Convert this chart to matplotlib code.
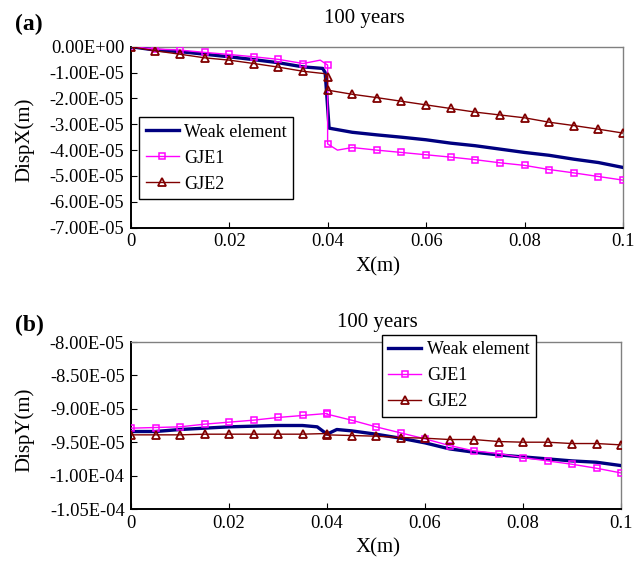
import matplotlib
matplotlib.use("Agg")
import matplotlib.pyplot as plt
from matplotlib.ticker import FuncFormatter

plt.rcParams['font.family'] = ['Liberation Serif', 'DejaVu Serif']

# ---- panel (a): DispX ----
xa_weak = [0, 0.005, 0.01, 0.015, 0.02, 0.025, 0.03, 0.035, 0.039, 0.0395, 0.0403,
           0.045, 0.05, 0.055, 0.06, 0.065, 0.07, 0.075, 0.08, 0.085, 0.09, 0.095, 0.1]
ya_weak = [0, -0.13e-5, -0.19e-5, -0.29e-5, -0.39e-5, -0.50e-5, -0.62e-5, -0.78e-5, -0.84e-5, -1.0e-5, -3.15e-5,
           -3.31e-5, -3.41e-5, -3.50e-5, -3.60e-5, -3.73e-5, -3.83e-5, -3.96e-5, -4.09e-5, -4.20e-5, -4.35e-5, -4.48e-5, -4.67e-5]

xa_gje1 = [0, 0.005, 0.01, 0.015, 0.02, 0.025, 0.03, 0.035, 0.0385, 0.04, 0.04, 0.042,
           0.045, 0.05, 0.055, 0.06, 0.065, 0.07, 0.075, 0.08, 0.085, 0.09, 0.095, 0.1]
ya_gje1 = [0, -0.09e-5, -0.13e-5, -0.22e-5, -0.30e-5, -0.39e-5, -0.49e-5, -0.65e-5, -0.52e-5, -0.71e-5, -3.76e-5, -4.0e-5,
           -3.90e-5, -4.00e-5, -4.09e-5, -4.18e-5, -4.27e-5, -4.37e-5, -4.49e-5, -4.59e-5, -4.75e-5, -4.88e-5, -5.02e-5, -5.16e-5]
mk_gje1 = [0, 1, 2, 3, 4, 5, 6, 7, 9, 10, 12, 13, 14, 15, 16, 17, 18, 19, 20, 21, 22, 23]

xa_gje2 = [0, 0.005, 0.01, 0.015, 0.02, 0.025, 0.03, 0.035, 0.0393, 0.04, 0.04,
           0.045, 0.05, 0.055, 0.06, 0.065, 0.07, 0.075, 0.08, 0.085, 0.09, 0.095, 0.1]
ya_gje2 = [0, -0.16e-5, -0.29e-5, -0.43e-5, -0.52e-5, -0.65e-5, -0.79e-5, -0.95e-5, -1.04e-5, -1.16e-5, -1.68e-5,
           -1.84e-5, -1.97e-5, -2.11e-5, -2.25e-5, -2.39e-5, -2.53e-5, -2.64e-5, -2.75e-5, -2.92e-5, -3.05e-5, -3.19e-5, -3.34e-5]
mk_gje2 = [0, 1, 2, 3, 4, 5, 6, 7, 9, 10, 11, 12, 13, 14, 15, 16, 17, 18, 19, 20, 21, 22]

# ---- panel (b): DispY ----
xb_weak = [0, 0.005, 0.01, 0.015, 0.02, 0.025, 0.03, 0.035, 0.038, 0.04, 0.042,
           0.045, 0.05, 0.055, 0.06, 0.065, 0.07, 0.075, 0.08, 0.085, 0.09, 0.095, 0.1]
yb_weak = [-9.34e-5, -9.34e-5, -9.31e-5, -9.29e-5, -9.27e-5, -9.26e-5, -9.25e-5, -9.25e-5, -9.27e-5, -9.38e-5, -9.31e-5,
           -9.33e-5, -9.38e-5, -9.44e-5, -9.51e-5, -9.60e-5, -9.65e-5, -9.69e-5, -9.72e-5, -9.75e-5, -9.78e-5, -9.80e-5, -9.85e-5]

xb_gje1 = [0, 0.005, 0.01, 0.015, 0.02, 0.025, 0.03, 0.035, 0.04, 0.04,
           0.045, 0.05, 0.055, 0.06, 0.065, 0.07, 0.075, 0.08, 0.085, 0.09, 0.095, 0.1]
yb_gje1 = [-9.29e-5, -9.28e-5, -9.27e-5, -9.23e-5, -9.20e-5, -9.17e-5, -9.13e-5, -9.10e-5, -9.07e-5, -9.08e-5,
           -9.17e-5, -9.27e-5, -9.36e-5, -9.45e-5, -9.55e-5, -9.63e-5, -9.67e-5, -9.73e-5, -9.78e-5, -9.83e-5, -9.89e-5, -9.96e-5]

xb_gje2 = [0, 0.005, 0.01, 0.015, 0.02, 0.025, 0.03, 0.035, 0.04, 0.04,
           0.045, 0.05, 0.055, 0.06, 0.065, 0.07, 0.075, 0.08, 0.085, 0.09, 0.095, 0.1]
yb_gje2 = [-9.39e-5, -9.39e-5, -9.39e-5, -9.38e-5, -9.38e-5, -9.38e-5, -9.38e-5, -9.38e-5, -9.37e-5, -9.39e-5,
           -9.40e-5, -9.41e-5, -9.43e-5, -9.44e-5, -9.46e-5, -9.46e-5, -9.49e-5, -9.50e-5, -9.50e-5, -9.52e-5, -9.52e-5, -9.54e-5]

xticks = [0, 0.02, 0.04, 0.06, 0.08, 0.1]
xticklabels = ['0', '0.02', '0.04', '0.06', '0.08', '0.1']
yticks_a = [0, -1e-5, -2e-5, -3e-5, -4e-5, -5e-5, -6e-5, -7e-5]
yticks_b = [-8e-5, -8.5e-5, -9e-5, -9.5e-5, -1e-4, -1.05e-4]

NAVY = '#000080'
MAG = '#FF00FF'
DRED = '#800000'


def sci(v, pos):
    if abs(v) < 1e-12:
        return '0.00E+00'
    return '%.2E' % v


def style_axes(ax, yticks):
    ax.set_xlim(0, 0.1)
    ax.set_ylim(min(yticks), max(yticks))
    ax.set_xticks(xticks)
    ax.set_xticklabels(xticklabels)
    ax.set_yticks(yticks)
    ax.yaxis.set_major_formatter(FuncFormatter(sci))
    ax.tick_params(axis='x', direction='in', length=4, pad=4, labelsize=13.3)
    ax.tick_params(axis='y', direction='in', length=4, pad=4.5, labelsize=13.3)
    for s in ['left', 'bottom']:
        ax.spines[s].set_linewidth(1.4)
        ax.spines[s].set_color('black')
    for s in ['top', 'right']:
        ax.spines[s].set_linewidth(1.0)
        ax.spines[s].set_color('#808080')


def draw(ax, xw, yw, x1, y1, m1, x2, y2, m2):
    ax.plot(xw, yw, color=NAVY, lw=2.4, label='Weak element', zorder=3)
    ax.plot(x1, y1, color=MAG, lw=1.0, marker='s', ms=5, mfc='none', mec=MAG,
            mew=1.1, markevery=m1, label='GJE1', zorder=4)
    ax.plot(x2, y2, color=DRED, lw=1.0, marker='^', ms=6, mfc='none', mec=DRED,
            mew=1.3, markevery=m2, label='GJE2', zorder=4)


W, H = 641, 562
fig = plt.figure(figsize=(W / 100, H / 100), dpi=100)

ax1 = fig.add_axes([130.7 / W, 1 - 227.7 / H, (623 - 130.7) / W, (227.7 - 46.7) / H])
draw(ax1, xa_weak, ya_weak, xa_gje1, ya_gje1, mk_gje1, xa_gje2, ya_gje2, mk_gje2)
style_axes(ax1, yticks_a)

ax2 = fig.add_axes([131 / W, 1 - 509 / H, (621 - 131) / W, (509 - 342) / H])
mk_b = list(range(len(xb_gje1)))
draw(ax2, xb_weak, yb_weak, xb_gje1, yb_gje1, mk_b, xb_gje2, yb_gje2, mk_b)
style_axes(ax2, yticks_b)

for ax, lx, ly in [(ax1, 139.3, 117.3), (ax2, 381.7, 335)]:
    leg = ax.legend(loc='upper left', bbox_to_anchor=(lx / W, 1 - ly / H),
                    bbox_transform=fig.transFigure, borderaxespad=0,
                    fontsize=13, frameon=True, fancybox=False, framealpha=1,
                    edgecolor='black', handlelength=1.85, handletextpad=0.3,
                    labelspacing=0.5, borderpad=0.35)
    leg.get_frame().set_linewidth(1.0)
    leg.set_zorder(10)

# titles, labels, panel letters
fig.text(364 / W, 1 - 18 / H, '100 years', ha='center', va='center', fontsize=15)
fig.text(377 / W, 1 - 322 / H, '100 years', ha='center', va='center', fontsize=15)
fig.text(378 / W, 1 - 267 / H, 'X(m)', ha='center', va='center', fontsize=15)
fig.text(378 / W, 1 - 548 / H, 'X(m)', ha='center', va='center', fontsize=15)
fig.text(25 / W, 1 - 140 / H, 'DispX(m)', ha='center', va='center', rotation=90, fontsize=15)
fig.text(25 / W, 1 - 430 / H, 'DispY(m)', ha='center', va='center', rotation=90, fontsize=15)
fig.text(15 / W, 1 - 24 / H, '(a)', ha='left', va='center', fontsize=17, fontweight='bold')
fig.text(15 / W, 1 - 325 / H, '(b)', ha='left', va='center', fontsize=17, fontweight='bold')

fig.savefig('out.png', dpi=100)
